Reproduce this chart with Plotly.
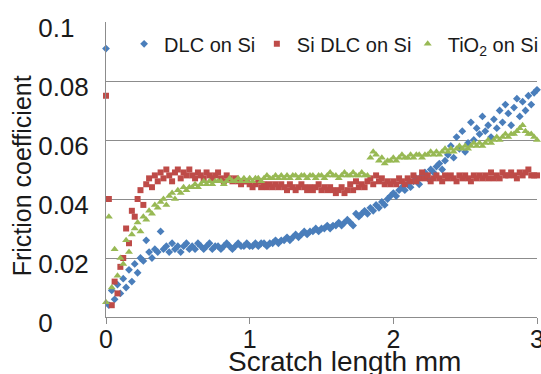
import plotly.graph_objects as go

# Scratch length sampling grid (mm), 0.00 .. 3.00 step 0.02
scratch_mm = [round(i * 0.02, 2) for i in range(151)]

dlc_on_si = [
    0.091, 0.004, 0.009, 0.006, 0.011, 0.008, 0.013, 0.010, 0.016, 0.012,
    0.018, 0.015, 0.020, 0.019, 0.026, 0.022, 0.020, 0.023, 0.022, 0.029,
    0.023, 0.024, 0.022, 0.025, 0.023, 0.024, 0.022, 0.024, 0.025, 0.023,
    0.024, 0.023, 0.025, 0.024, 0.023, 0.024, 0.025, 0.023, 0.024, 0.024,
    0.023, 0.024, 0.025, 0.024, 0.023, 0.024, 0.025, 0.024, 0.024, 0.025,
    0.024, 0.024, 0.025, 0.024, 0.025, 0.025, 0.024, 0.025, 0.025, 0.026,
    0.025, 0.026, 0.026, 0.027, 0.026, 0.027, 0.028, 0.027, 0.028, 0.029,
    0.028, 0.029, 0.029, 0.030, 0.029, 0.030, 0.030, 0.031, 0.030, 0.031,
    0.031, 0.032, 0.031, 0.032, 0.033, 0.032, 0.031, 0.035, 0.034, 0.035,
    0.036, 0.035, 0.037, 0.036, 0.038, 0.037, 0.039, 0.038, 0.040, 0.041,
    0.042, 0.041, 0.043, 0.044, 0.043, 0.045, 0.044, 0.046, 0.047, 0.045,
    0.048, 0.049, 0.047, 0.050, 0.049, 0.051, 0.052, 0.050, 0.053, 0.055,
    0.058, 0.054, 0.061, 0.057, 0.063, 0.056, 0.059, 0.066, 0.060, 0.064,
    0.062, 0.068, 0.063, 0.065, 0.061, 0.067, 0.064, 0.070, 0.066, 0.072,
    0.069, 0.065, 0.071, 0.074, 0.068, 0.073, 0.070, 0.075, 0.072, 0.076,
    0.077,
]

si_dlc_on_si = [
    0.075, 0.040, 0.004, 0.012, 0.008, 0.017, 0.020, 0.030, 0.025, 0.036,
    0.034, 0.040, 0.043, 0.038, 0.045, 0.047, 0.044, 0.048, 0.046, 0.049,
    0.047, 0.050, 0.048, 0.046, 0.049, 0.050, 0.047, 0.049, 0.048, 0.050,
    0.048, 0.047, 0.049, 0.048, 0.047, 0.049, 0.048, 0.047, 0.048, 0.049,
    0.047, 0.046, 0.048, 0.047, 0.046, 0.047, 0.046, 0.045, 0.046, 0.046,
    0.045, 0.044, 0.045, 0.046, 0.044, 0.045, 0.044, 0.045, 0.044, 0.045,
    0.044, 0.045, 0.044, 0.043, 0.045, 0.044, 0.043, 0.044, 0.045, 0.044,
    0.043, 0.044, 0.043, 0.044, 0.045, 0.043, 0.044, 0.043, 0.044, 0.043,
    0.042, 0.043, 0.044, 0.042, 0.043, 0.045, 0.043, 0.046, 0.044, 0.045,
    0.044, 0.046, 0.047, 0.045, 0.048, 0.046, 0.047, 0.045, 0.046, 0.045,
    0.046, 0.045, 0.047, 0.046, 0.045, 0.047, 0.046, 0.048, 0.046, 0.047,
    0.049, 0.047, 0.048, 0.046, 0.047, 0.048, 0.047, 0.046, 0.048, 0.047,
    0.048, 0.047, 0.046, 0.048, 0.047, 0.048, 0.047, 0.046, 0.048, 0.047,
    0.048, 0.047, 0.048, 0.047, 0.049, 0.047, 0.048, 0.047, 0.049, 0.048,
    0.048, 0.049, 0.048, 0.047, 0.049, 0.048, 0.049, 0.050, 0.048, 0.048,
    0.048,
]

tio2_on_si = [
    0.005, 0.034, 0.010, 0.023, 0.014, 0.020, 0.018, 0.026, 0.022, 0.028,
    0.030, 0.032, 0.029, 0.034, 0.033, 0.036, 0.035, 0.038, 0.037, 0.039,
    0.040, 0.038, 0.041, 0.042, 0.040, 0.043, 0.042, 0.044, 0.043, 0.044,
    0.044, 0.045, 0.044, 0.045, 0.046, 0.045, 0.046, 0.045, 0.046, 0.046,
    0.046, 0.045, 0.046, 0.047, 0.046, 0.046, 0.047, 0.046, 0.047, 0.046,
    0.047, 0.046, 0.047, 0.047, 0.046, 0.047, 0.048, 0.047, 0.047, 0.048,
    0.047, 0.048, 0.047, 0.048, 0.047, 0.048, 0.048, 0.047, 0.048, 0.048,
    0.047, 0.048, 0.048, 0.047, 0.048, 0.048, 0.047, 0.048, 0.049, 0.048,
    0.048, 0.047, 0.048, 0.049, 0.048, 0.048, 0.049, 0.048, 0.048, 0.049,
    0.048, 0.048, 0.054, 0.056, 0.055, 0.053, 0.054, 0.052, 0.053, 0.053,
    0.054, 0.053, 0.054, 0.055, 0.054, 0.054, 0.055, 0.054, 0.055, 0.055,
    0.054, 0.055, 0.055, 0.056, 0.055, 0.056, 0.055, 0.056, 0.057, 0.056,
    0.057, 0.056, 0.057, 0.058, 0.057, 0.058, 0.057, 0.058, 0.059, 0.058,
    0.059, 0.058, 0.059, 0.060, 0.059, 0.060, 0.061, 0.060, 0.061, 0.062,
    0.061, 0.062, 0.062, 0.063, 0.064, 0.065, 0.063, 0.062, 0.062, 0.061,
    0.060,
]

y_tick_vals = [0, 0.02, 0.04, 0.06, 0.08, 0.1]
y_tick_text = ["0", "0.02", "0.04", "0.06", "0.08", "0.1"]
x_tick_vals = [0, 1, 2, 3]
x_title = "Scratch length mm"
y_title = "Friction coefficient"

FONT = "Liberation Sans, Arial, sans-serif"
BLUE = "#4a7ebb"
RED = "#be4b48"
GREEN = "#98b954"
AXIS_GRAY = "#8c8c8c"

# pad labels with no-break spaces so they appear left-aligned like the original
pad = {"0": 5, "0.1": 2}
y_tick_text_padded = [t + "\u00a0" * pad.get(t, 0) for t in y_tick_text]

fig = go.Figure()
fig.add_trace(go.Scatter(
    x=scratch_mm, y=dlc_on_si, mode="markers", name="DLC on Si", legend="legend",
    marker=dict(symbol="diamond", size=6, color=BLUE), cliponaxis=False))
fig.add_trace(go.Scatter(
    x=scratch_mm, y=si_dlc_on_si, mode="markers", name="Si DLC on Si", legend="legend2",
    marker=dict(symbol="square", size=6, color=RED), cliponaxis=False))
fig.add_trace(go.Scatter(
    x=scratch_mm, y=tio2_on_si, mode="markers", name="TiO<sub>2</sub> on Si", legend="legend3",
    marker=dict(symbol="triangle-up", size=7, color=GREEN), cliponaxis=False))

leg_common = dict(orientation="h", xanchor="left", y=0.926, yanchor="middle",
                  font=dict(size=20, family=FONT, color="#1a1a1a"),
                  bgcolor="rgba(0,0,0,0)", itemwidth=30)

fig.update_layout(
    width=541, height=374,
    margin=dict(l=106, r=4, t=21.5, b=56.5, autoexpand=False),
    paper_bgcolor="white", plot_bgcolor="white",
    font=dict(family=FONT, color="#1a1a1a"),
    showlegend=True,
    legend=dict(x=0.042, **leg_common),
    legend2=dict(x=0.350, **leg_common),
    legend3=dict(x=0.700, **leg_common),
    xaxis=dict(range=[0, 3], tickvals=x_tick_vals, showgrid=False, zeroline=False,
               showline=True, linecolor=AXIS_GRAY, linewidth=1,
               ticks="outside", ticklen=6, tickcolor=AXIS_GRAY,
               tickfont=dict(size=25, family=FONT), automargin=False,
               ticklabeloverflow="allow", ticklabelstandoff=-6),
    yaxis=dict(range=[0, 0.1], tickvals=y_tick_vals, ticktext=y_tick_text_padded,
               showgrid=True, gridcolor=AXIS_GRAY, gridwidth=1, zeroline=False,
               showline=True, linecolor=AXIS_GRAY, linewidth=1, ticks="",
               tickfont=dict(size=26, family=FONT), ticklabelshift=6,
               ticklabelstandoff=11, automargin=False),
    annotations=[
        dict(text=x_title, xref="paper", yref="paper", x=0.5545, y=-0.091,
             xanchor="center", yanchor="top", showarrow=False,
             font=dict(size=28, family=FONT, color="#1a1a1a")),
        dict(text=y_title, xref="paper", yref="paper", x=-0.195, y=0.48,
             xanchor="center", yanchor="middle", textangle=-90, showarrow=False,
             font=dict(size=25, family=FONT, color="#1a1a1a")),
    ],
)

fig.write_html("out.html", config={"displayModeBar": False},
               post_script="document.body.style.margin='0';document.body.style.overflow='hidden';")
